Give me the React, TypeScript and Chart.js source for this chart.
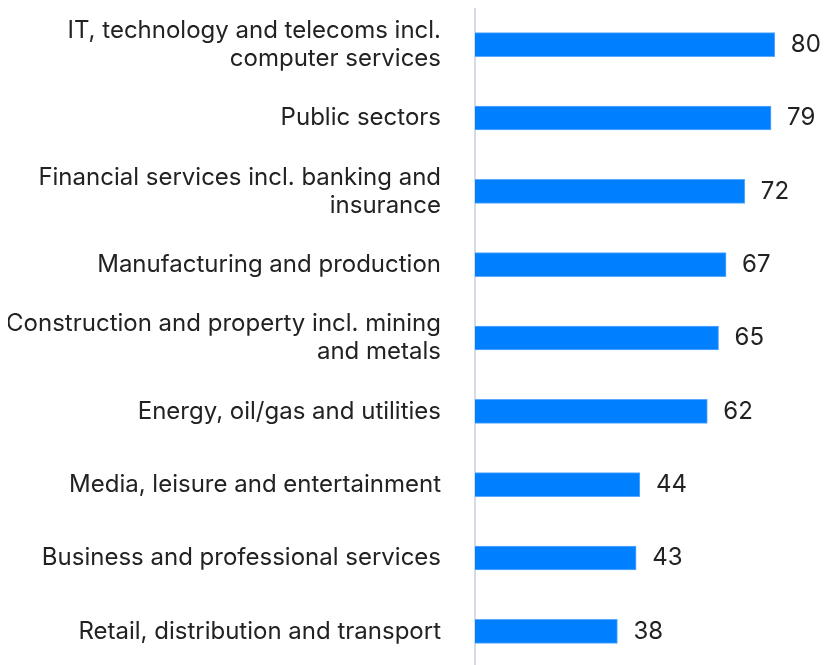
import React, { useEffect, useRef } from "react";
import { Chart, registerables } from "chart.js";

Chart.register(...registerables);

const categories: (string | string[])[] = [
  ["IT, technology and telecoms incl.", "computer services"],
  "Public sectors",
  ["Financial services incl. banking and", "insurance"],
  "Manufacturing and production",
  ["Construction and property incl. mining", "and metals"],
  "Energy, oil/gas and utilities",
  "Media, leisure and entertainment",
  "Business and professional services",
  "Retail, distribution and transport",
];
const values: number[] = [80, 79, 72, 67, 65, 62, 44, 43, 38];

const FONT = "Inter, 'Noto Sans', sans-serif";

const valueLabels = {
  id: "valueLabels",
  afterDatasetsDraw(chart: any) {
    const ctx = chart.ctx;
    const meta = chart.getDatasetMeta(0);
    ctx.save();
    ctx.font = `24px ${FONT}`;
    ctx.fillStyle = "#222222";
    ctx.textAlign = "left";
    ctx.textBaseline = "middle";
    meta.data.forEach((bar: any, i: number) => {
      ctx.fillText(String(values[i]), bar.x + 16, bar.y);
    });
    ctx.restore();
  },
};

export default function App() {
  const ref = useRef<HTMLCanvasElement>(null);
  useEffect(() => {
    if (!ref.current) return;
    const chart = new Chart(ref.current, {
      type: "bar",
      data: {
        labels: categories,
        datasets: [
          {
            data: values,
            backgroundColor: "#0080ff",
            borderColor: "#5aa8ff",
            borderWidth: 1,
            barThickness: 24,
          },
        ],
      },
      options: {
        indexAxis: "y",
        animation: false,
        responsive: false,
        maintainAspectRatio: false,
        layout: { padding: { top: 0, bottom: 0, left: 0, right: 8 } },
        plugins: {
          legend: { display: false },
          tooltip: { enabled: false },
        },
        scales: {
          x: {
            min: 0,
            max: 91,
            display: false,
            grid: { display: false },
          },
          y: {
            grid: { display: false, drawTicks: false },
            border: { display: true, color: "#d5dbe5", width: 2 },
            ticks: {
              color: "#222222",
              padding: 34,
              font: { family: FONT, size: 24, lineHeight: 1.17 },
            },
            afterFit: (scale: any) => {
              scale.paddingTop = 0;
              scale.paddingBottom = 0;
              scale.width = 467;
            },
          },
        },
      },
      plugins: [valueLabels],
    });
    return () => chart.destroy();
  }, []);
  return (
    <div style={{ position: "fixed", left: 8, top: 8, width: 816, height: 660 }}>
      <canvas ref={ref} width={816} height={660} style={{ display: "block" }} />
    </div>
  );
}
